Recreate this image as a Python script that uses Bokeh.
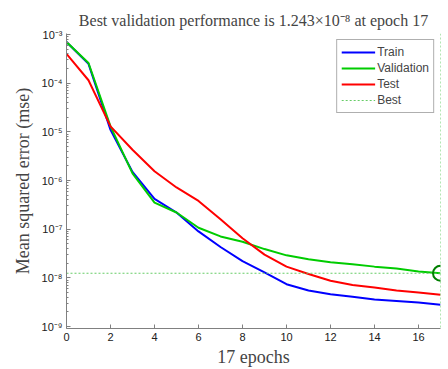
from bokeh.plotting import figure
from bokeh.models import (FixedTicker, CustomJSTickFormatter, Legend, LegendItem, Span)
from bokeh.embed import file_html
from bokeh.resources import INLINE

epochs = list(range(18))
train = [7.0e-4, 2.5e-4, 1.1e-5, 1.5e-6, 4.2e-7, 2.2e-7, 9.0e-8, 4.3e-8, 2.2e-8, 1.3e-8,
         7.4e-9, 5.5e-9, 4.6e-9, 4.1e-9, 3.6e-9, 3.35e-9, 3.1e-9, 2.8e-9]
validation = [7.0e-4, 2.6e-4, 1.3e-5, 1.4e-6, 3.5e-7, 2.2e-7, 1.07e-7, 7.1e-8, 5.5e-8, 3.9e-8,
              2.9e-8, 2.4e-8, 2.1e-8, 1.9e-8, 1.7e-8, 1.55e-8, 1.35e-8, 1.243e-8]
test = [4.0e-4, 1.15e-4, 1.3e-5, 4.3e-6, 1.55e-6, 7.2e-7, 3.8e-7, 1.6e-7, 6.5e-8, 3.0e-8,
        1.7e-8, 1.2e-8, 8.7e-9, 7.1e-9, 6.3e-9, 5.5e-9, 5.0e-9, 4.5e-9]
best_epoch = 17
best_value = 1.243e-8
x_ticks = [0, 2, 4, 6, 8, 10, 12, 14, 16]
y_ticks = [1e-9, 1e-8, 1e-7, 1e-6, 1e-5, 1e-4, 1e-3]

p = figure(width=448, height=369, output_backend="svg", toolbar_location=None,
           y_axis_type="log", x_range=(0, 17), y_range=(9.1e-10, 1.05e-3),
           min_border_left=66, min_border_right=8, min_border_top=33, min_border_bottom=38)
p.title.text = "Best validation performance is 1.243\u00d710\u207b\u2078 at epoch 17"
p.title.text_font = "Liberation Serif"
p.title.text_font_size = "16px"
p.title.text_font_style = "normal"
p.title.align = "center"
p.title.offset = 6
p.outline_line_color = None
p.xgrid.grid_line_color = None
p.ygrid.grid_line_color = None

minor = [m * t for t in y_ticks[:-1] for m in range(2, 10)]
p.yaxis.ticker = FixedTicker(ticks=y_ticks, minor_ticks=minor)
p.yaxis.formatter = CustomJSTickFormatter(code="""
const sup = {"-":"\u207b","0":"\u2070","1":"\u00b9","2":"\u00b2","3":"\u00b3","4":"\u2074",
             "5":"\u2075","6":"\u2076","7":"\u2077","8":"\u2078","9":"\u2079"};
const e = Math.round(Math.log10(tick));
return "10" + String(e).split("").map(c => sup[c]).join("");
""")
p.xaxis.ticker = FixedTicker(ticks=x_ticks)
for ax in (p.xaxis, p.yaxis):
    ax.major_tick_in = 4
    ax.major_tick_out = 0
    ax.minor_tick_in = 2
    ax.minor_tick_out = 0
    ax.axis_line_color = "#808080"
    ax.major_tick_line_color = "#808080"
    ax.minor_tick_line_color = "#808080"
    ax.major_label_text_font = "Liberation Sans"
    ax.major_label_text_font_size = "11px"
    ax.major_label_text_color = "#202020"
    ax.axis_label_text_font = "Liberation Serif"
    ax.axis_label_text_font_size = "18px"
    ax.axis_label_text_font_style = "normal"
p.xaxis.minor_tick_in = 0
p.xaxis.axis_label = "17 epochs"
p.yaxis.axis_label = "Mean squared error (mse)"
p.xaxis.major_label_standoff = 4
p.yaxis.major_label_standoff = 4
p.xaxis.axis_label_standoff = 3
p.yaxis.axis_label_standoff = 6

r_tr = p.line(epochs, train, line_color="#0000ff", line_width=2)
r_va = p.line(epochs, validation, line_color="#00cc00", line_width=2)
r_te = p.line(epochs, test, line_color="#ff0000", line_width=2)
r_best = p.line([0, best_epoch], [best_value, best_value], line_color="#66cc66",
                line_width=1, line_dash="2 2")
p.add_layout(Span(location=best_epoch, dimension="height", line_color="#66cc66",
                  line_width=1, line_dash="2 2"))
p.scatter([best_epoch], [best_value], size=15, marker="circle", fill_color=None,
          line_color="#007f00", line_width=2)

legend = Legend(items=[LegendItem(label="Train", renderers=[r_tr]),
                       LegendItem(label="Validation", renderers=[r_va]),
                       LegendItem(label="Test", renderers=[r_te]),
                       LegendItem(label="Best", renderers=[r_best])],
                location="top_right")
legend.margin = 6
legend.padding = 4
legend.spacing = 0
legend.label_text_font = "Liberation Sans"
legend.label_text_font_size = "12px"
legend.label_height = 16
legend.glyph_height = 16
legend.glyph_width = 34
legend.label_standoff = 2
legend.border_line_color = "#606060"
legend.border_line_width = 1
legend.background_fill_alpha = 1
p.add_layout(legend)

open("out.html", "w").write(file_html(p, INLINE))
